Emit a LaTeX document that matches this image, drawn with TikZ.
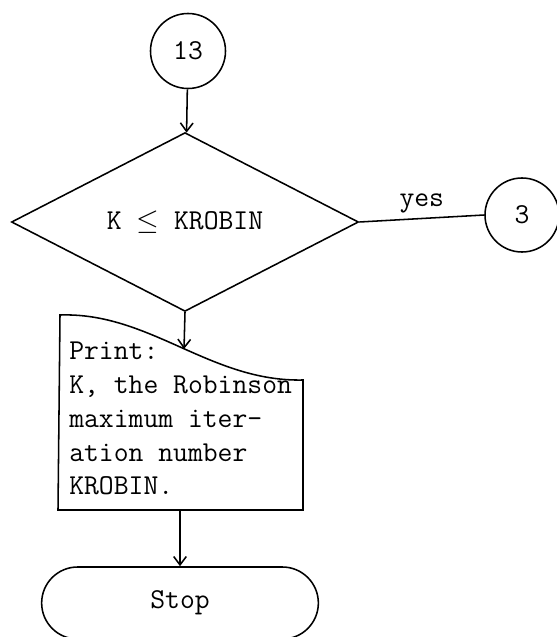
\documentclass[tikz,border=0pt]{standalone}
\usepackage{fontspec}
\usetikzlibrary{shapes.geometric, shapes.misc, arrows.meta}

\tikzset{
	flowline/.style={black, line width=1.1pt},
	connector/.style={draw, flowline, circle, minimum size=1.875cm, inner sep=0pt},
	decision/.style={draw, flowline, diamond, minimum width=8.675cm, minimum height=4.375cm, inner sep=0pt},
	terminal/.style={draw, flowline, rounded rectangle, minimum width=7.15cm, minimum height=1.8cm},
	>={Straight Barb[length=6pt, width=9pt]},
}

\begin{document}
\begin{tikzpicture}[x=0.025cm, y=-0.025cm, font=\ttfamily\fontsize{20.5}{24}\selectfont]
	\useasboundingbox (0, 0) rectangle (557, 637);

	\node[connector] (c13) at (188, 51) {13};
	\node[decision] (test) at (185, 222) {K $\le$ KROBIN};
	\node[connector, minimum size=1.85cm] (c3) at (522, 215) {3};
	\node[terminal] (stop) at (180, 603) {Stop};

	% print box, torn top edge
	\draw[flowline] (60, 315) .. controls (150, 312) and (210, 382) .. (303, 380)
		-- (303, 510) -- (58, 510) -- cycle;
	\coordinate (prtop) at (184, 349);
	\coordinate (prbot) at (180, 510);
	\node[anchor=north west, inner sep=0pt, align=left] (prt) at (69, 342)
		{Print:\\K, the Robinson\\maximum iter-\\ation number\\KROBIN.};

	\draw[flowline, ->] (c13) -- (test);
	\draw[flowline] (test.east) -- node[above]{yes} (c3.west);
	\draw[flowline, ->] (test.south) -- (prtop);
	\draw[flowline, ->] (prbot) -- (stop.north);
\end{tikzpicture}
\end{document}
